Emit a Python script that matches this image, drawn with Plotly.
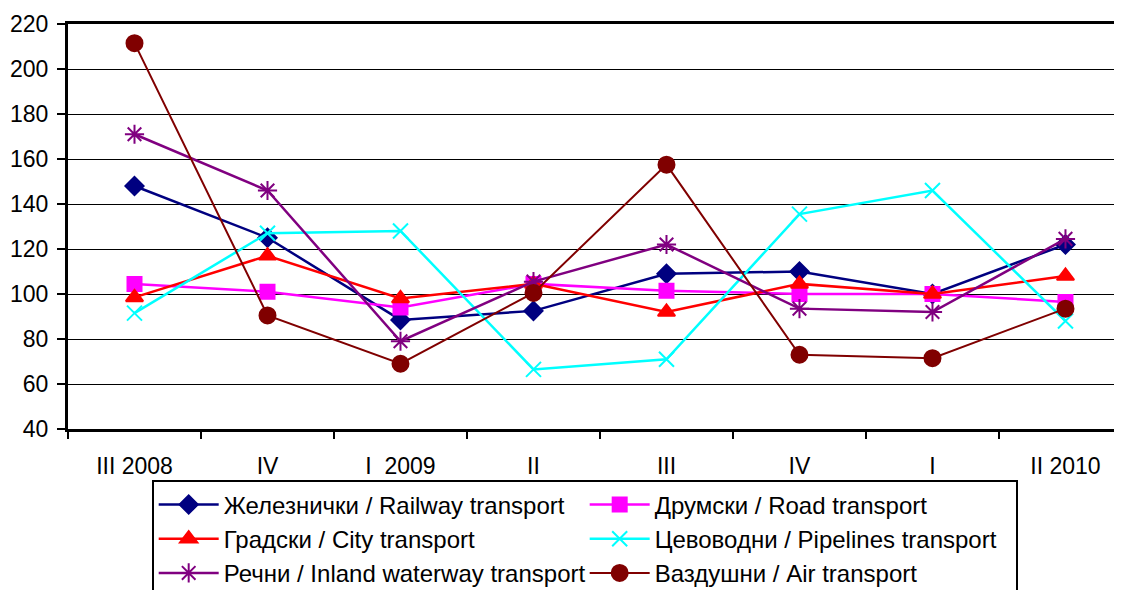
import plotly.graph_objects as go

categories = ["III 2008", "IV", "I  2009", "II", "III", "IV", "I", "II 2010"]
positions = list(range(len(categories)))

railway = [148, 125, 88.5, 92.5, 109, 110, 100, 122]
road = [104.5, 101, 94, 104.5, 101.5, 100, 100, 96.5]
city = [98.5, 117, 98, 104.5, 92, 104.5, 100, 108]
pipelines = [91.5, 127, 128, 66.5, 71, 135.5, 146, 88]
waterway = [171, 146, 79, 105.5, 122, 93.5, 92, 124.5]
air = [211.5, 90.5, 69, 100.5, 157.5, 73, 71.5, 93.5]

names = [
    "Железнички / Railway transport",
    "Друмски / Road transport",
    "Градски / City transport",
    "Цевоводни / Pipelines transport",
    "Речни / Inland waterway transport",
    "Ваздушни / Air transport",
]

series = [railway, road, city, pipelines, waterway, air]
colors = ["#000080", "#FF00FF", "#FF0000", "#00FFFF", "#800080", "#800000"]
symbols = ["diamond", "square", "triangle-up", "x-thin-open", "asterisk-open", "circle"]
msizes = [14, 14, 15, 15, 16, 16]
lwidths = [2.5, 2.5, 2.5, 2.5, 2.5, 2]

fig = go.Figure()
for vals, name, col, sym, ms, lw in zip(series, names, colors, symbols, msizes, lwidths):
    fig.add_trace(go.Scatter(
        x=positions, y=vals, name=name, mode="lines+markers",
        line=dict(color=col, width=lw),
        marker=dict(symbol=sym, size=ms, color=col, line=dict(color=col, width=2)),
    ))

boundaries = [p - 0.5 for p in positions] + [positions[-1] + 0.5]

fig.update_layout(
    width=1114, height=582,
    margin=dict(l=60, r=0, t=16, b=161, autoexpand=False),
    paper_bgcolor="white", plot_bgcolor="white",
    font=dict(family="Liberation Sans, Arial, sans-serif", color="black", size=23),
    showlegend=True,
    legend=dict(
        orientation="h", x=0.0794, xanchor="left", y=-0.127, yanchor="top",
        entrywidth=356, entrywidthmode="pixels",
        bordercolor="black", borderwidth=2, bgcolor="white",
        font=dict(size=24, family="Liberation Sans, Arial, sans-serif"),
        itemwidth=60,
    ),
    xaxis=dict(
        range=[-0.5, 7.425],
        tickmode="array", tickvals=positions, ticktext=categories,
        showgrid=False, showline=True, linecolor="black", linewidth=3, mirror=True,
        ticks="", tickfont=dict(size=23), ticklabelstandoff=14, zeroline=False,
    ),
    xaxis2=dict(
        overlaying="x", matches="x", range=[-0.5, 7.425],
        tickmode="array", tickvals=boundaries, ticktext=[""] * len(boundaries),
        ticks="outside", ticklen=9, tickwidth=2, tickcolor="black",
        showgrid=False, showline=False, zeroline=False, side="bottom",
    ),
    yaxis=dict(
        range=[40, 220], dtick=20, tick0=40,
        showgrid=True, gridcolor="black", gridwidth=1,
        showline=True, linecolor="black", linewidth=3,
        ticks="outside", ticklen=8, tickwidth=2, tickcolor="black",
        tickfont=dict(size=23), zeroline=False, ticklabelstandoff=4,
    ),
)
# invisible trace to activate the boundary-tick axis
fig.add_trace(go.Scatter(x=[positions[0]], y=[None], xaxis="x2", showlegend=False,
                         hoverinfo="skip"))

fig.write_html("out.html")
